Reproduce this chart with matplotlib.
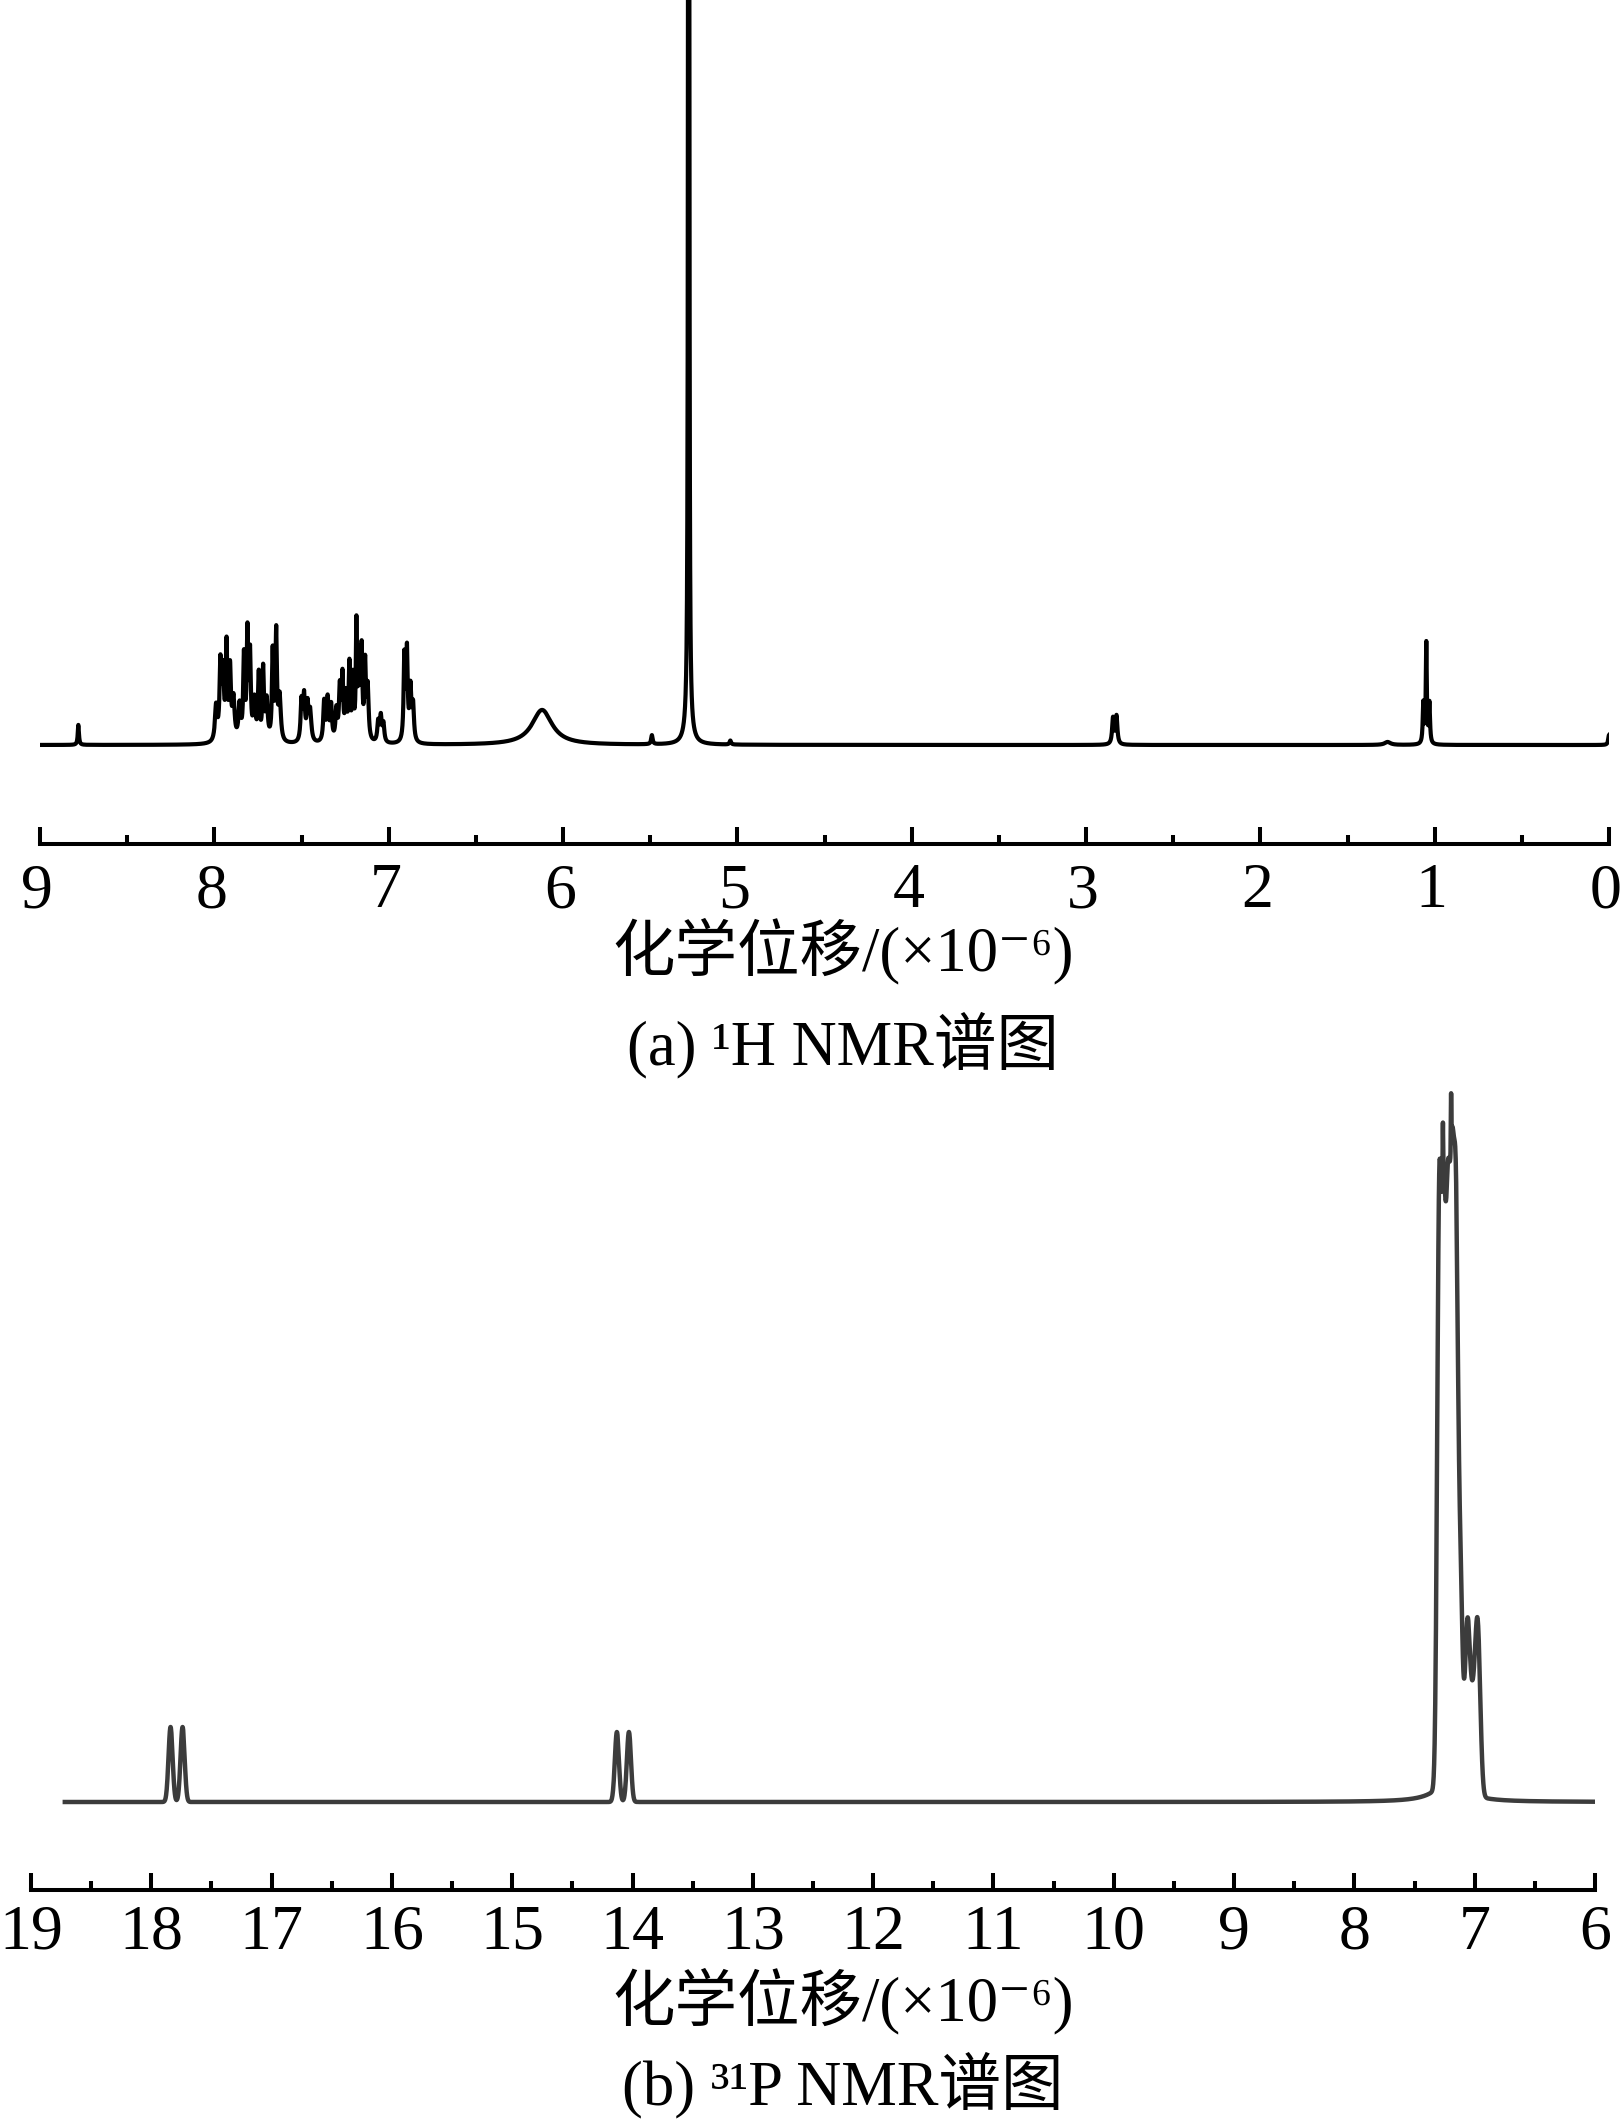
import matplotlib
matplotlib.use("Agg")
import matplotlib.pyplot as plt
import matplotlib.transforms as mtrans
import numpy as np

plt.rcParams['font.family'] = ['Liberation Serif', 'DejaVu Serif', 'Noto Sans CJK SC']

# 1H NMR peak list: centre (ppm), height (arb.), FWHM (ppm)
h_center = [8.78, 7.99, 7.965, 7.95, 7.93, 7.91, 7.89, 7.855, 7.83, 7.81, 7.795,
            7.77, 7.745, 7.72, 7.70, 7.665, 7.645, 7.625,
            7.50, 7.485, 7.465, 7.45, 7.37, 7.35, 7.33, 7.30, 7.28, 7.265, 7.245,
            7.225, 7.205, 7.185, 7.17, 7.155, 7.135, 7.12, 7.06, 7.045, 7.03,
            6.91, 6.895, 6.875, 6.86, 6.12, 5.49, 5.28, 5.276, 5.28, 5.04,
            2.845, 2.825, 1.27, 1.065, 1.048, 1.03, 0.0]
h_height = [20, 35, 75, 65, 92, 70, 40, 35, 82, 105, 82,
            40, 65, 70, 40, 88, 107, 44,
            40, 44, 35, 30, 40, 42, 35, 30, 52, 61, 44,
            74, 61, 112, 78, 87, 74, 52, 20, 25, 18,
            84, 88, 52, 35, 35, 9, 2500, 480, 20, 4,
            26, 28, 3, 40, 100, 40, 10]
h_width = [0.008, 0.015, 0.012, 0.012, 0.010, 0.012, 0.015, 0.015, 0.010, 0.010, 0.010,
           0.015, 0.010, 0.010, 0.015, 0.010, 0.010, 0.015,
           0.012, 0.012, 0.012, 0.015, 0.012, 0.012, 0.012, 0.012, 0.012, 0.010, 0.012,
           0.010, 0.010, 0.008, 0.010, 0.010, 0.010, 0.012, 0.012, 0.012, 0.012,
           0.010, 0.010, 0.012, 0.012, 0.14, 0.010, 0.004, 0.004, 0.04, 0.010,
           0.012, 0.012, 0.04, 0.008, 0.007, 0.008, 0.010]

# 31P NMR peak list
p_center = [17.84, 17.74, 14.13, 14.03,
            7.295, 7.258, 7.222, 7.188, 7.155, 7.264, 7.196, 7.118,
            7.06, 6.975, 7.015, 7.20]
p_height = [565, 505, 495, 505, 510, 55, 50, 190,
            165, 165, 70, 25]
p_height = [75, 75, 70, 70] + p_height
p_width = [0.04, 0.04, 0.04, 0.04,
           0.04, 0.04, 0.04, 0.04, 0.04, 0.005, 0.005, 0.04,
           0.05, 0.05, 0.05, 0.25]


def lorentz(x, c, h, w):
    return h / (1 + ((x - c) / (w / 2)) ** 2)


def gauss(x, c, h, w):
    s = w / 2.3548
    return h * np.exp(-0.5 * ((x - c) / s) ** 2)


xh = np.arange(-0.005, 9.0, 0.0005)
yh = np.zeros_like(xh)
for c, h, w in zip(h_center, h_height, h_width):
    yh += lorentz(xh, c, h, w)

xp = np.arange(5.97, 18.72, 0.001)
yp = np.zeros_like(xp)
for c, h, w in zip(p_center, p_height, p_width):
    if w > 0.2:
        yp += lorentz(xp, c, h, w)
    else:
        yp += gauss(xp, c, h, w)

W, H = 1621, 2126
fig = plt.figure(figsize=(W / 100, H / 100), dpi=100)


def style(ax, pad, shift=0):
    for s in ['top', 'left', 'right']:
        ax.spines[s].set_visible(False)
    ax.spines['bottom'].set_linewidth(2.9)
    ax.set_yticks([])
    ax.tick_params(axis='x', which='major', direction='in', length=12.5, width=2.9,
                   labelsize=46, pad=pad)
    ax.tick_params(axis='x', which='minor', direction='in', length=6.5, width=2.9)
    if shift:
        off = mtrans.ScaledTranslation(shift / 100, 0, fig.dpi_scale_trans)
        for lab in ax.get_xticklabels():
            lab.set_transform(lab.get_transform() + off)


# (a) 1H NMR
ax1 = fig.add_axes([40 / W, (H - 844) / H, 1569 / W, 844 / H])
ax1.plot(xh, yh, color='black', lw=3.0)
ax1.set_xlim(9, 0)
ax1.set_ylim(-99, 745)
ax1.set_xticks(range(0, 10))
ax1.set_xticks(np.arange(0.5, 9, 1), minor=True)
style(ax1, 14, shift=-3)

# (b) 31P NMR
ax2 = fig.add_axes([31 / W, (H - 1890) / H, 1564 / W, 830 / H])
ax2.plot(xp, yp, color='#3c3c3c', lw=3.2)
ax2.set_xlim(19, 6)
ax2.set_ylim(-88, 742)
ax2.set_xticks(range(6, 20))
ax2.set_xticks(np.arange(6.5, 19, 1), minor=True)
style(ax2, 10.5)

xc = 843 / W
fig.text(xc, 1 - 951 / H, '化学位移/(×10⁻⁶)', ha='center', va='center', fontsize=45)
fig.text(xc, 1 - 1045 / H, '(a) ¹H NMR谱图', ha='center', va='center', fontsize=45)
fig.text(xc, 1 - 2001 / H, '化学位移/(×10⁻⁶)', ha='center', va='center', fontsize=45)
fig.text(xc, 1 - 2085 / H, '(b) ³¹P NMR谱图', ha='center', va='center', fontsize=45)

fig.savefig('out.png', dpi=100)
